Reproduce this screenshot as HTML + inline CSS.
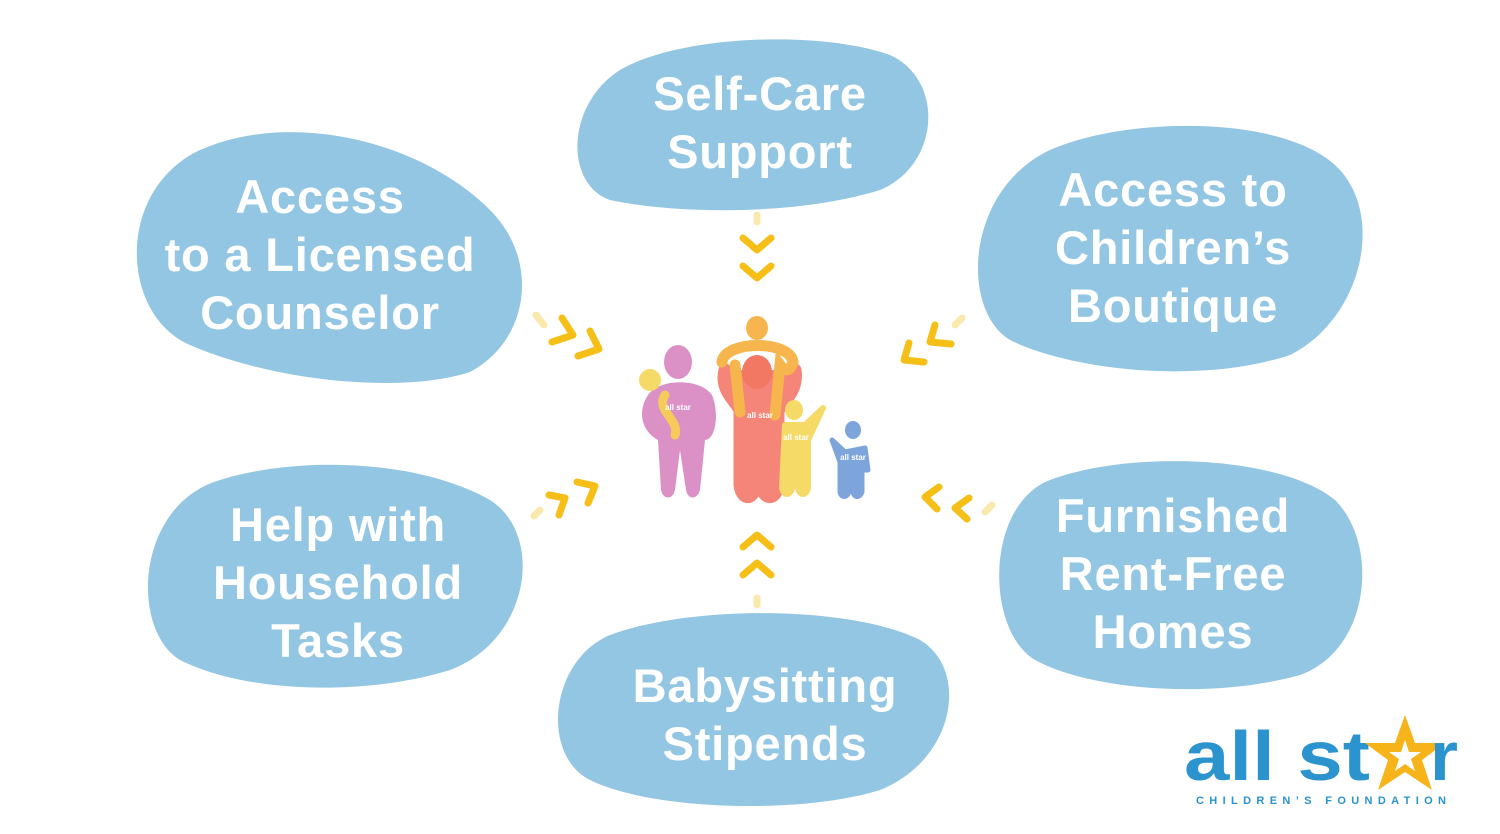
<!DOCTYPE html>
<html><head><meta charset="utf-8"><style>
html,body{margin:0;padding:0;background:#fff;}
svg{display:block}
text{font-family:"Liberation Sans",sans-serif;font-weight:bold;}
</style></head><body>
<svg width="1500" height="834" viewBox="0 0 1500 834" xmlns="http://www.w3.org/2000/svg">
<g fill="#93c6e2">
<path d="M200,150 C290,110 420,140 490,210 C540,260 530,340 470,372 C400,395 270,380 190,345 C120,315 115,190 200,150Z"/>
<path d="M620,70 C680,35 820,30 890,55 C945,80 940,165 880,190 C800,215 680,215 610,200 C565,185 565,105 620,70Z"/>
<path d="M1050,150 C1130,115 1290,115 1340,170 C1385,220 1360,320 1290,355 C1200,385 1070,370 1010,340 C960,310 965,190 1050,150Z"/>
<path d="M220,480 C300,455 420,460 490,500 C545,535 530,640 450,670 C370,695 250,695 180,660 C130,630 135,505 220,480Z"/>
<path d="M610,635 C690,605 850,605 920,640 C970,670 955,760 880,790 C800,815 650,810 590,780 C540,755 550,660 610,635Z"/>
<path d="M1050,480 C1130,450 1280,455 1335,500 C1380,545 1370,650 1300,675 C1210,700 1090,690 1035,660 C985,630 985,505 1050,480Z"/>
</g>
<g fill="#fff" font-size="47" text-anchor="middle" letter-spacing="0.8">
<text x="320" y="213">Access</text>
<text x="320" y="271">to a Licensed</text>
<text x="320" y="329">Counselor</text>
<text x="760" y="110">Self-Care</text>
<text x="760" y="168">Support</text>
<text x="1173" y="206">Access to</text>
<text x="1173" y="264">Children’s</text>
<text x="1173" y="322">Boutique</text>
<text x="338" y="541">Help with</text>
<text x="338" y="599">Household</text>
<text x="338" y="657">Tasks</text>
<text x="765" y="702">Babysitting</text>
<text x="765" y="760">Stipends</text>
<text x="1173" y="532">Furnished</text>
<text x="1173" y="590">Rent-Free</text>
<text x="1173" y="648">Homes</text>
</g>
<g fill="none" stroke="#f6bf17" stroke-width="7" stroke-linecap="round" stroke-linejoin="round">
<polyline points="743,238 757,250 771,238"/><polyline points="743,266 757,278 771,266"/>
<polyline points="743,547 757,535 771,547"/><polyline points="743,575 757,563 771,575"/>
<polyline points="562,318 573,335 552,342"/><polyline points="590,331 599,349 578,356"/>
<polyline points="549,495 565,498 559,515"/><polyline points="577,482 595,486 588,503"/>
<polyline points="935,325 930,342 951,344"/><polyline points="909,343 904,360 924,362"/>
<polyline points="939,487 925,497 937,509"/><polyline points="969,498 955,508 967,519"/>
</g>
<g stroke="#f6bf17" stroke-width="7" stroke-linecap="round" opacity="0.35">
<line x1="536" y1="315" x2="544" y2="325"/><line x1="534" y1="516" x2="540" y2="510"/>
<line x1="962" y1="318" x2="955" y2="325"/><line x1="985" y1="512" x2="992" y2="505"/>
<line x1="757" y1="215" x2="757" y2="222"/><line x1="757" y1="598" x2="757" y2="605"/>
</g>
<!-- family -->
<g opacity="0.9">
<ellipse cx="678" cy="362" rx="14" ry="17" fill="#d884c0"/>
<path d="M648,395 C660,378 700,378 712,395 C720,415 715,440 705,440 L700,490 C697,500 688,500 686,490 L680,450 L675,490 C673,500 663,500 661,490 L658,440 C640,430 638,410 648,395Z" fill="#d884c0"/>
<ellipse cx="650" cy="380" rx="11" ry="11" fill="#f5d657"/>
<path d="M665,395 C655,410 680,420 675,435" stroke="#f5c64a" stroke-width="9" fill="none" stroke-linecap="round"/>
<path d="M725,370 C720,390 735,400 740,410 L740,485 C742,500 752,500 755,488 L758,455 L762,488 C765,500 776,500 778,485 L778,410 C785,400 798,390 795,370" stroke="#f3786a" stroke-width="13" fill="#f3786a" stroke-linecap="round"/>
<ellipse cx="757" cy="372" rx="15" ry="17" fill="#f16a53"/>
<ellipse cx="757" cy="328" rx="11" ry="12" fill="#f7ae3a"/>
<path d="M722,362 C725,340 790,340 793,362 C790,372 785,372 780,365 L775,415 M735,365 L740,412" stroke="#f7ae3a" stroke-width="11" fill="none" stroke-linecap="round"/>
<ellipse cx="794" cy="410" rx="9" ry="10" fill="#f5d657"/>
<path d="M785,425 L805,425 L823,408 L808,440 L808,488 C806,496 800,496 798,488 L795,470 L792,488 C790,496 784,496 782,488 Z" fill="#f5d657" stroke="#f5d657" stroke-width="6" stroke-linejoin="round"/>
<ellipse cx="853" cy="430" rx="8" ry="9" fill="#6f9bd8"/>
<path d="M832,440 L845,452 L865,448 L868,470 L862,470 L862,492 C860,498 854,498 853,492 L851,480 L849,492 C847,498 841,498 840,492 L840,462 Z" fill="#6f9bd8" stroke="#6f9bd8" stroke-width="5" stroke-linejoin="round"/>
</g>
<g fill="#fff" font-size="8"><text x="678" y="410" text-anchor="middle">all star</text><text x="760" y="418" text-anchor="middle">all star</text><text x="796" y="440" text-anchor="middle">all star</text><text x="853" y="460" text-anchor="middle">all star</text></g>
<!-- logo -->
<text x="1184" y="780" font-size="70" fill="#2b93cd" textLength="186" lengthAdjust="spacingAndGlyphs">all st</text>
<polygon points="1405,715 1415,743 1445,743 1422,760 1432,790 1405,772 1378,790 1388,760 1365,743 1395,743" fill="#f6b41a"/>
<polygon points="1405,740 1409,752 1421,752 1411,759 1415,771 1405,764 1395,771 1399,759 1389,752 1401,752" fill="#fff"/>
<text x="1430" y="780" font-size="70" fill="#2b93cd" textLength="28" lengthAdjust="spacingAndGlyphs">r</text>
<text x="1196" y="804" font-size="11" fill="#2b93cd" textLength="250" lengthAdjust="spacing">CHILDREN’S FOUNDATION</text>
</svg>
</body></html>
